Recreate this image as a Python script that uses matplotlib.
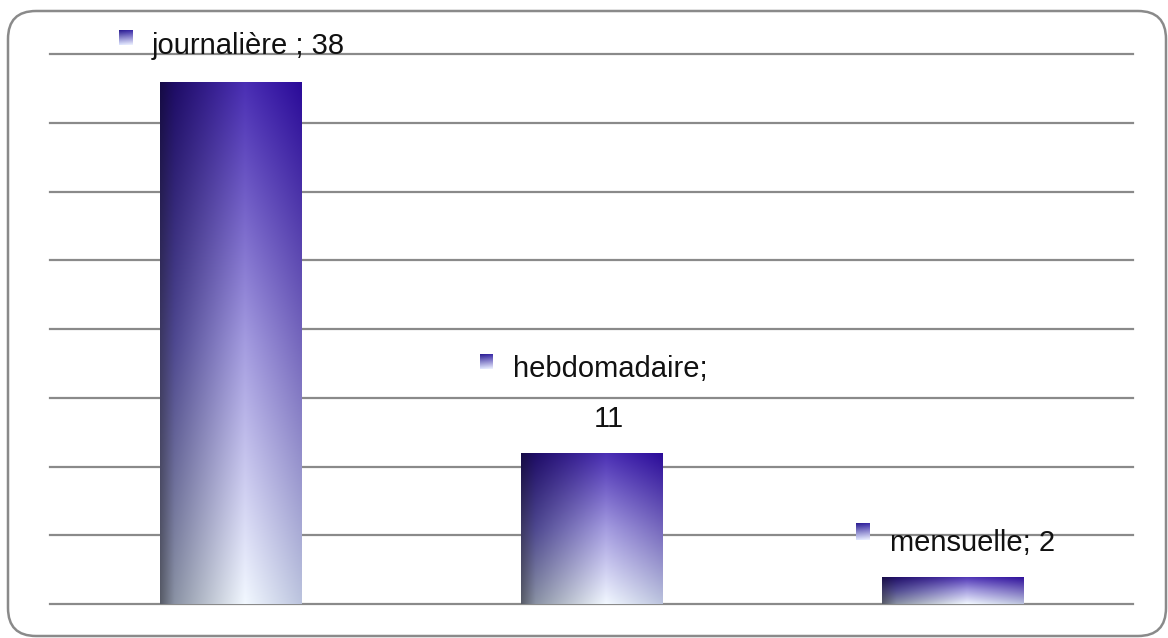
import numpy as np
import matplotlib
matplotlib.use('Agg')
import matplotlib.pyplot as plt
from matplotlib.patches import FancyBboxPatch
from matplotlib.colors import to_rgb

# data
categories = ['journalière', 'hebdomadaire', 'mensuelle']
values = [38, 11, 2]
label_lines = [['journalière ; 38'], ['hebdomadaire;', '11'], ['mensuelle; 2']]

plt.rcParams['font.family'] = ['Liberation Sans Narrow', 'Liberation Sans', 'DejaVu Sans']


def gradient_img(ustops, tstops, cols, nu=160, nt=300):
    # cols[k][s] -> colour at column stop k, row stop s (row 0 = top)
    C = np.array([[to_rgb(c) for c in row] for row in cols])
    t = np.linspace(0, 1, nt)
    u = np.linspace(0, 1, nu)
    A = np.zeros((len(ustops), nt, 3))
    for k in range(len(ustops)):
        for ch in range(3):
            A[k, :, ch] = np.interp(t, tstops, C[k, :, ch])
    img = np.zeros((nt, nu, 3))
    for i in range(nt):
        for ch in range(3):
            img[i, :, ch] = np.interp(u, ustops, A[:, i, ch])
    return img


bar_img = gradient_img(
    [0, 0.1, 0.6, 1.0], [0, 0.5, 1],
    [['#150a45', '#3c3862', '#585c68'],
     ['#1e0c66', '#4e4890', '#8a92a4'],
     ['#4a2eb4', '#a49ce0', '#f2f8ff'],
     ['#2a0a98', '#7466bc', '#bcc4de']])

key_img = gradient_img(
    [0, 1], [0, 1],
    [['#2a1c90', '#dfe6ff'],
     ['#3a2aa8', '#eef2ff']], nu=10, nt=40)

fig = plt.figure(figsize=(11.68, 6.38), dpi=100)
ax = fig.add_axes([50 / 1168, 34 / 638, 1083 / 1168, 550 / 638])

x = np.arange(len(categories))
bars = ax.bar(x, values, width=0.393, color='none', edgecolor='none', zorder=3)
for b in bars:
    x0, y0 = b.get_x(), b.get_y()
    im = ax.imshow(bar_img, extent=[x0, x0 + b.get_width(), y0, y0 + b.get_height()],
                   aspect='auto', zorder=3, interpolation='bilinear')
    im.set_clip_path(b)

ax.set_xlim(-0.5, 2.5)
ax.set_ylim(0, 40)
ax.set_yticks(range(0, 41, 5))
ax.yaxis.grid(True, color='#8a8a8a', lw=1.6)
ax.set_axisbelow(True)
for gl in ax.get_ygridlines():
    gl.set_clip_on(False)
ax.tick_params(left=False, bottom=False, labelleft=False, labelbottom=False)
for s in ax.spines.values():
    s.set_visible(False)
ax.set_facecolor('none')

# label layout (data coords): key box and text baselines
keys = [(-0.309, -0.271, 40.65, 41.67), (0.691, 0.727, 17.09, 18.18), (1.733, 1.771, 4.65, 5.82)]
texts = [[(-0.2175, 40.0, 'left')], [(0.782, 16.51, 'left'), (1.0485, 12.87, 'center')],
         [(1.827, 3.85, 'left')]]
for i in range(len(categories)):
    kx0, kx1, ky0, ky1 = keys[i]
    ki = ax.imshow(key_img, extent=[kx0, kx1, ky0, ky1], aspect='auto', zorder=5)
    ki.set_clip_on(False)
    for (tx, ty, ha), line in zip(texts[i], label_lines[i]):
        ax.text(tx, ty, line, ha=ha, va='baseline', fontsize=21, color='#111111',
                zorder=6, clip_on=False)

ax.set_xlim(-0.5, 2.5)
ax.set_ylim(0, 40)

border = FancyBboxPatch((8, 2), 1158, 625, boxstyle='round,pad=0,rounding_size=28',
                        transform=None, fill=False, edgecolor='#8a8a8a', lw=1.8)
fig.patches.append(border)

fig.savefig('out.png', dpi=100)
